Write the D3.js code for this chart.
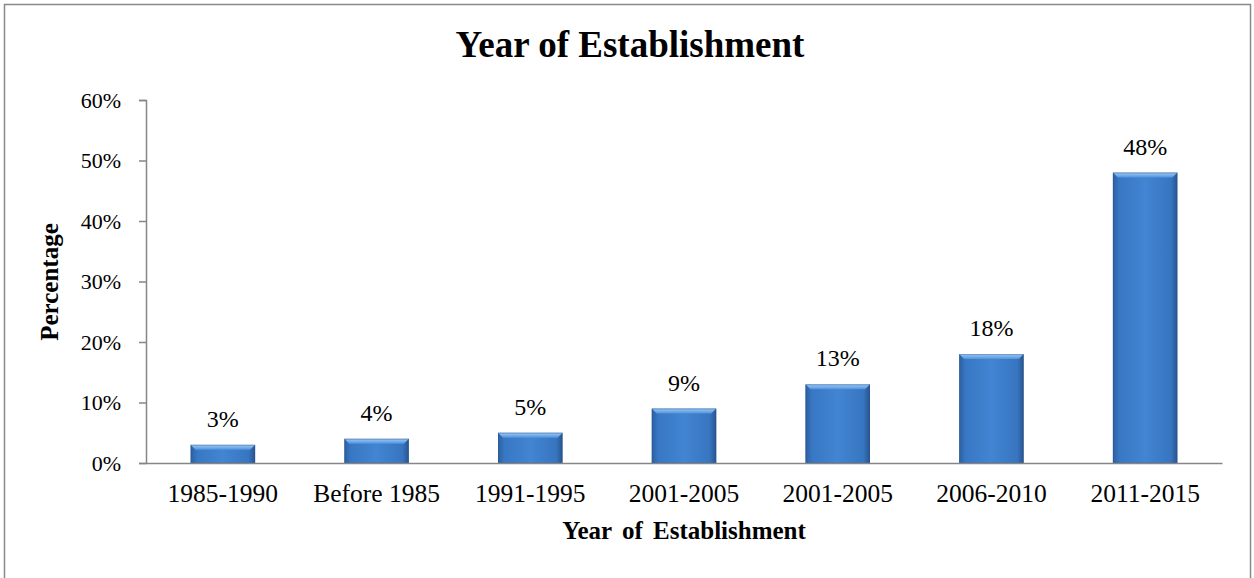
<!DOCTYPE html>
<html>
<head>
<meta charset="utf-8">
<script src="https://cdn.jsdelivr.net/npm/d3@7/dist/d3.min.js"></script>
<style>
  html, body { margin: 0; padding: 0; background: #fff; }
  svg { display: block; }
  text { font-family: "Liberation Serif", "Times New Roman", serif; fill: #000; }
</style>
</head>
<body>
<svg id="chart" width="1254" height="578"></svg>
<script>
// Share of organisations by year of establishment
const categories = ["1985-1990", "Before 1985", "1991-1995", "2001-2005", "2001-2005", "2006-2010", "2011-2015"];
const values = [3, 4, 5, 9, 13, 18, 48];
const yTicks = [0, 10, 20, 30, 40, 50, 60];

const svg = d3.select("#chart");
const W = 1254, H = 578;
const margin = { left: 146, right: 32, top: 100, bottom: 115 };
const plotW = W - margin.left - margin.right;
const plotH = H - margin.top - margin.bottom;

// chart frame
svg.append("rect")
  .attr("x", 4.5).attr("y", 4.5)
  .attr("width", 1246).attr("height", 600)
  .attr("fill", "#fff").attr("stroke", "#898989").attr("stroke-width", 1.5);

const defs = svg.append("defs");
const grad = defs.append("linearGradient").attr("id", "barFill")
  .attr("x1", "0").attr("x2", "1").attr("y1", "0").attr("y2", "0");
grad.append("stop").attr("offset", "0%").attr("stop-color", "#2c5fa1");
grad.append("stop").attr("offset", "10%").attr("stop-color", "#3877c3");
grad.append("stop").attr("offset", "50%").attr("stop-color", "#4285d2");
grad.append("stop").attr("offset", "90%").attr("stop-color", "#3775c0");
grad.append("stop").attr("offset", "100%").attr("stop-color", "#28548f");
const topGrad = defs.append("linearGradient").attr("id", "barTop")
  .attr("x1", "0").attr("x2", "0").attr("y1", "0").attr("y2", "1");
topGrad.append("stop").attr("offset", "0%").attr("stop-color", "#a3cbf4");
topGrad.append("stop").attr("offset", "100%").attr("stop-color", "#4d92de");

const g = svg.append("g").attr("transform", `translate(${margin.left},${margin.top})`);

const x = d3.scaleBand().domain(d3.range(categories.length)).range([0, plotW]).paddingInner(0.58).paddingOuter(0.29);
const y = d3.scaleLinear().domain([0, 60]).range([plotH, 0]);

// y axis
const yAxis = g.append("g")
  .call(d3.axisLeft(y).tickValues(yTicks).tickFormat(d => d + "%").tickSize(7).tickPadding(18));
yAxis.select(".domain").attr("stroke", "#868686").attr("stroke-width", 1.5);
yAxis.selectAll(".tick line").attr("stroke", "#868686").attr("stroke-width", 1.5);
yAxis.selectAll(".tick text").style("font-size", "22px").style("font-family", "Liberation Serif, serif").attr("fill", "#000");

// bars
const bars = g.selectAll(".bar").data(values).enter().append("g").attr("class", "bar");
bars.append("rect")
  .attr("x", (d, i) => x(i))
  .attr("y", d => y(d))
  .attr("width", x.bandwidth())
  .attr("height", d => plotH - y(d))
  .attr("fill", "url(#barFill)");
// bevelled top edge
bars.append("path")
  .attr("d", (d, i) => {
    const x0 = x(i), x1 = x(i) + x.bandwidth(), t = y(d), b = 5;
    return `M${x0},${t} L${x1},${t} L${x1 - b},${t + b} L${x0 + b},${t + b} Z`;
  })
  .attr("fill", "url(#barTop)");
// soft outline
bars.append("rect")
  .attr("x", (d, i) => x(i) + 0.5)
  .attr("y", d => y(d) + 0.5)
  .attr("width", x.bandwidth() - 1)
  .attr("height", d => plotH - y(d) - 0.5)
  .attr("fill", "none").attr("stroke", "#2b5386").attr("stroke-opacity", 0.4);

// value labels
g.selectAll(".val").data(values).enter().append("text")
  .attr("x", (d, i) => x(i) + x.bandwidth() / 2)
  .attr("y", d => y(d) - 18)
  .attr("text-anchor", "middle")
  .style("font-size", "24px")
  .text(d => d + "%");

// x axis
const xAxis = g.append("g").attr("transform", `translate(0,${plotH})`)
  .call(d3.axisBottom(x).tickFormat(i => categories[i]).tickSize(0).tickPadding(21));
xAxis.select(".domain").attr("stroke", "#868686").attr("stroke-width", 1.5);
xAxis.selectAll(".tick text").style("font-size", "25.5px").style("font-family", "Liberation Serif, serif").attr("fill", "#000");

// titles
svg.append("text").attr("x", 630).attr("y", 57).attr("text-anchor", "middle")
  .style("font-size", "37px").style("font-weight", "bold").text("Year of Establishment");
svg.append("text").attr("x", margin.left + plotW / 2).attr("y", 539).attr("text-anchor", "middle")
  .style("font-size", "25px").style("font-weight", "bold").style("word-spacing", "4px")
  .text("Year of Establishment");
svg.append("text").attr("transform", `translate(58,282) rotate(-90)`)
  .attr("text-anchor", "middle")
  .style("font-size", "25px").style("font-weight", "bold").text("Percentage");
</script>
</body>
</html>
